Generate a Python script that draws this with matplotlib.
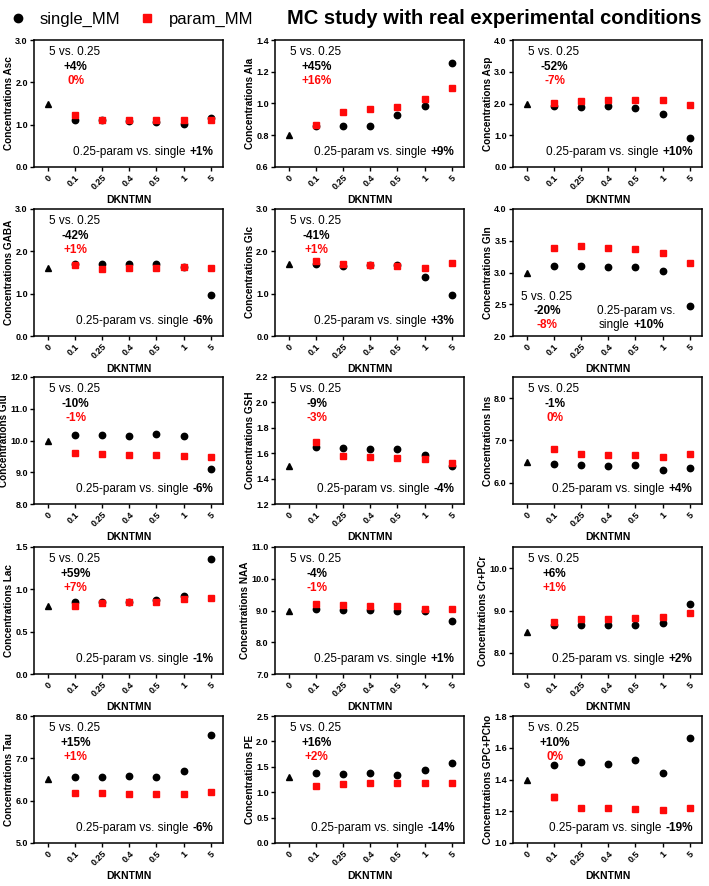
"""MC study with real experimental conditions: 15 metabolite panels."""

import matplotlib

matplotlib.use("Agg")

import matplotlib.pyplot as plt
from matplotlib.lines import Line2D
from matplotlib.ticker import FormatStrFormatter, MultipleLocator

plt.rcParams["font.family"] = ["Liberation Sans", "DejaVu Sans"]

DOSES = ["0", "0.1", "0.25", "0.4", "0.5", "1", "5"]
METABOLITES = [
    "Asc", "Ala", "Asp",
    "GABA", "Glc", "Gln",
    "Glu", "GSH", "Ins",
    "Lac", "NAA", "Cr+PCr",
    "Tau", "PE", "GPC+PCho",
]
TRUE_VALUES = [1.5, 0.8, 2.0, 1.6, 1.7, 3.0, 10.0, 1.5, 6.5, 0.8, 9.0, 8.5, 6.5, 1.3, 1.4]

# estimates at DKNTMN = 0.1, 0.25, 0.4, 0.5, 1, 5
SINGLE_MM = [
    [1.12, 1.10, 1.08, 1.07, 1.01, 1.15],
    [0.86, 0.86, 0.86, 0.93, 0.985, 1.255],
    [1.93, 1.89, 1.93, 1.86, 1.66, 0.90],
    [1.71, 1.70, 1.70, 1.71, 1.62, 0.98],
    [1.69, 1.65, 1.67, 1.68, 1.40, 0.98],
    [3.10, 3.10, 3.08, 3.09, 3.03, 2.48],
    [10.16, 10.16, 10.14, 10.19, 10.15, 9.10],
    [1.652, 1.642, 1.636, 1.636, 1.584, 1.496],
    [6.44, 6.42, 6.40, 6.42, 6.31, 6.35],
    [0.845, 0.855, 0.85, 0.87, 0.92, 1.36],
    [9.05, 9.03, 9.02, 9.00, 9.00, 8.68],
    [8.66, 8.66, 8.66, 8.66, 8.71, 9.16],
    [6.55, 6.57, 6.59, 6.55, 6.70, 7.56],
    [1.37, 1.36, 1.38, 1.34, 1.43, 1.58],
    [1.49, 1.51, 1.50, 1.52, 1.44, 1.66],
]
PARAM_MM = [
    [1.23, 1.11, 1.11, 1.10, 1.11, 1.12],
    [0.865, 0.947, 0.963, 0.977, 1.03, 1.097],
    [2.02, 2.08, 2.12, 2.10, 2.12, 1.94],
    [1.68, 1.59, 1.60, 1.60, 1.62, 1.60],
    [1.76, 1.70, 1.67, 1.65, 1.61, 1.72],
    [3.38, 3.42, 3.38, 3.37, 3.30, 3.15],
    [9.61, 9.56, 9.54, 9.54, 9.50, 9.48],
    [1.692, 1.578, 1.570, 1.565, 1.554, 1.525],
    [6.79, 6.69, 6.66, 6.65, 6.61, 6.69],
    [0.80, 0.84, 0.85, 0.855, 0.88, 0.90],
    [9.20, 9.16, 9.15, 9.15, 9.06, 9.05],
    [8.74, 8.80, 8.81, 8.83, 8.84, 8.93],
    [6.19, 6.17, 6.16, 6.16, 6.16, 6.21],
    [1.12, 1.17, 1.18, 1.18, 1.18, 1.19],
    [1.29, 1.22, 1.22, 1.215, 1.21, 1.22],
]
PARAM_MM_SD = [
    [0.04, 0.02, 0.02, 0.02, 0.02, 0.02],
    [0.012, 0.014, 0.013, 0.014, 0.008, 0.006],
    [0.02, 0.02, 0.02, 0.02, 0.02, 0.02],
    [0.02, 0.02, 0.02, 0.02, 0.02, 0.02],
    [0.03, 0.02, 0.02, 0.02, 0.02, 0.02],
    [0.01, 0.01, 0.01, 0.01, 0.01, 0.01],
    [0.03, 0.03, 0.03, 0.03, 0.03, 0.03],
    [0.012, 0.006, 0.005, 0.005, 0.008, 0.008],
    [0.02, 0.02, 0.02, 0.02, 0.02, 0.02],
    [0.025, 0.012, 0.01, 0.012, 0.015, 0.008],
    [0.04, 0.03, 0.03, 0.03, 0.03, 0.03],
    [0.04, 0.03, 0.03, 0.03, 0.03, 0.03],
    [0.04, 0.03, 0.03, 0.03, 0.03, 0.03],
    [0.02, 0.02, 0.015, 0.015, 0.015, 0.015],
    [0.018, 0.006, 0.006, 0.006, 0.006, 0.005],
]

CHANGE_SINGLE = ["+4%", "+45%", "-52%", "-42%", "-41%", "-20%", "-10%", "-9%",
                 "-1%", "+59%", "-4%", "+6%", "+15%", "+16%", "+10%"]
CHANGE_PARAM = ["0%", "+16%", "-7%", "+1%", "+1%", "-8%", "-1%", "-3%",
                "0%", "+7%", "-1%", "+1%", "+1%", "+2%", "0%"]
PARAM_VS_SINGLE = ["+1%", "+9%", "+10%", "-6%", "+3%", "+10%", "-6%", "-4%",
                   "+4%", "-1%", "+1%", "+2%", "-6%", "-14%", "-19%"]

Y_LIMITS = [(0, 3), (0.6, 1.4), (0, 4), (0, 3), (0, 3), (2, 4), (8, 12), (1.2, 2.2),
            (5.5, 8.5), (0, 1.5), (7, 11), (7.5, 10.5), (5, 8), (0, 2.5), (1.0, 1.8)]
Y_STEPS = [1, 0.2, 1, 1, 1, 0.5, 1, 0.2, 1, 0.5, 1, 1, 1, 0.5, 0.2]

RED = "#ff0a0a"
FIG_W, FIG_H = 709, 886
COL_LEFT = [34, 275, 513]
ROW_TOP = [40, 209, 377, 547, 716]
AX_W, AX_H = 189, 127

fig = plt.figure(figsize=(FIG_W / 100, FIG_H / 100), dpi=100)

for i, name in enumerate(METABOLITES):
    row, col = divmod(i, 3)
    ax = fig.add_axes([
        COL_LEFT[col] / FIG_W,
        1 - (ROW_TOP[row] + AX_H) / FIG_H,
        AX_W / FIG_W,
        AX_H / FIG_H,
    ])
    xs = list(range(1, len(DOSES)))
    ax.plot([0], [TRUE_VALUES[i]], marker="^", ms=4, color="black", ls="none")
    ax.plot(xs, SINGLE_MM[i], marker="o", ms=4.6, color="black", ls="none")
    ax.errorbar(xs, PARAM_MM[i], yerr=PARAM_MM_SD[i], fmt="s", ms=4.6,
                color=RED, ecolor=RED, elinewidth=1, capsize=2, capthick=1)

    ax.set_xlim(-0.5, 6.45)
    ax.set_ylim(*Y_LIMITS[i])
    ax.yaxis.set_major_locator(MultipleLocator(Y_STEPS[i]))
    ax.yaxis.set_major_formatter(FormatStrFormatter("%.1f"))
    ax.set_xticks(range(len(DOSES)))
    ax.set_xticklabels(DOSES, rotation=45, ha="right", rotation_mode="anchor")
    ax.tick_params(axis="both", direction="out", length=3, width=1,
                   labelsize=6.5, pad=1.5)
    for lab in ax.get_xticklabels() + ax.get_yticklabels():
        lab.set_fontweight("bold")
    for spine in ax.spines.values():
        spine.set_linewidth(1.1)
    ax.set_ylabel(f"Concentrations {name}", fontsize=7.2, fontweight="bold",
                  labelpad=0.8)
    ax.set_xlabel("DKNTMN", fontsize=7.5, fontweight="bold", labelpad=2)

    if name == "Gln":
        ax.text(0.04, 0.31, "5 vs. 0.25", transform=ax.transAxes, fontsize=8.5,
                ha="left", va="center")
        ax.text(0.18, 0.20, CHANGE_SINGLE[i], transform=ax.transAxes,
                fontsize=8.5, fontweight="bold", ha="center", va="center")
        ax.text(0.18, 0.09, CHANGE_PARAM[i], transform=ax.transAxes,
                fontsize=8.5, fontweight="bold", color=RED, ha="center",
                va="center")
        ax.text(0.65, 0.20, "0.25-param vs.", transform=ax.transAxes,
                fontsize=8.5, ha="center", va="center")
        bold = ax.text(0.80, 0.09, PARAM_VS_SINGLE[i], transform=ax.transAxes,
                       fontsize=8.5, fontweight="bold", ha="right", va="center")
        ax.annotate("single", xy=(0, 0.5), xycoords=bold, xytext=(-3, 0),
                    textcoords="offset points", fontsize=8.5, ha="right",
                    va="center")
    else:
        ax.text(0.08, 0.905, "5 vs. 0.25", transform=ax.transAxes,
                fontsize=8.5, ha="left", va="center")
        ax.text(0.22, 0.79, CHANGE_SINGLE[i], transform=ax.transAxes,
                fontsize=8.5, fontweight="bold", ha="center", va="center")
        ax.text(0.22, 0.68, CHANGE_PARAM[i], transform=ax.transAxes,
                fontsize=8.5, fontweight="bold", color=RED, ha="center",
                va="center")
        bold = ax.text(0.95, 0.12, PARAM_VS_SINGLE[i], transform=ax.transAxes,
                       fontsize=8.5, fontweight="bold", ha="right", va="center")
        ax.annotate("0.25-param vs. single", xy=(0, 0.5), xycoords=bold,
                    xytext=(-3, 0), textcoords="offset points", fontsize=8.5,
                    ha="right", va="center")

handles = [
    Line2D([], [], marker="o", color="black", ls="none", ms=6),
    Line2D([], [], marker="s", color=RED, ls="none", ms=6),
]
fig.legend(handles, ["single_MM", "param_MM"], loc="upper left",
           bbox_to_anchor=(0.0, 1.0), ncol=2, frameon=False, fontsize=12,
           handlelength=0.8, handletextpad=0.9, columnspacing=1.2,
           borderaxespad=0.3)
fig.text(0.99, 0.99, "MC study with real experimental conditions",
         fontsize=14.5, fontweight="bold", ha="right", va="top")

fig.savefig("out.png", dpi=100)
